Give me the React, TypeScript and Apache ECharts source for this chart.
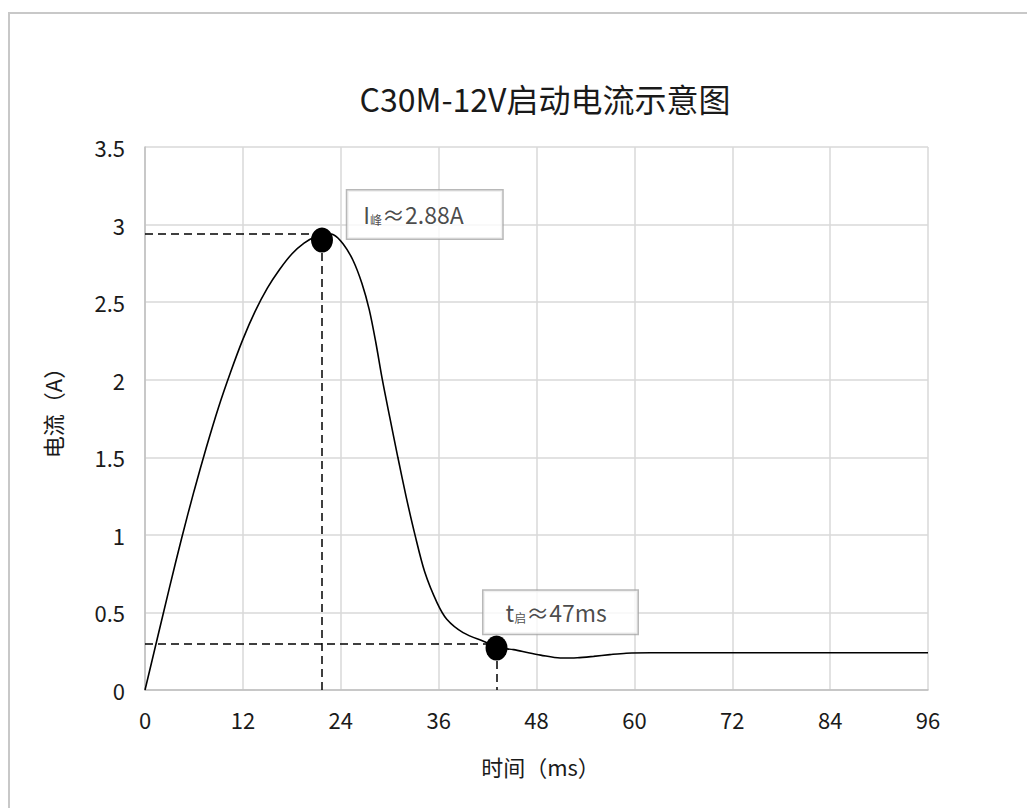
import React, { useEffect, useRef } from "react";
import * as echarts from "echarts";

const titleText = "C30M-12V启动电流示意图";
const xName = "时间（ms）";
const yName = "电流（A）";
const xTicks = [0, 12, 24, 36, 48, 60, 72, 84, 96];
const yTicks = [0, 0.5, 1, 1.5, 2, 2.5, 3, 3.5];

// current curve: time (ms) and current (A)
const timeMs = [
  0, 1.5, 3, 4.5, 6, 7.5, 9, 10.5, 12, 13.5, 15, 16.5, 18, 19.5, 21, 22.2,
  23.1, 24.3, 25.5, 26.6, 27.5, 28.3, 29.1, 30, 31, 32, 33.1, 34.3, 35.8, 37, 39, 41.9,
  43.1, 45.2, 47, 48.5, 50.9, 53, 55, 57, 59, 62, 96,
];
const currentA = [
  0, 0.33, 0.66, 0.98, 1.28, 1.56, 1.82, 2.05, 2.26, 2.44, 2.59, 2.71, 2.81, 2.88, 2.925, 2.94,
  2.935, 2.875, 2.77, 2.62, 2.45, 2.24, 2.0, 1.76, 1.5, 1.25, 1.0, 0.76, 0.563, 0.456, 0.37, 0.305,
  0.275, 0.26, 0.24, 0.225, 0.206, 0.208, 0.217, 0.228, 0.237, 0.24, 0.24,
];

// key points
const peakPoint = [21.7, 2.9];
const peakLevel = 2.94;
const startPoint = [43.1, 0.27];
const startLevel = 0.3;

// annotation anchors (top-left of boxes), in data coords
const peakLabelAt = [24.8, 3.22];
const startLabelAt = [41.5, 0.64];

const FONT = "Noto Sans CJK SC";
const TXT = "#1a1a1a";

export default function App() {
  const ref = useRef<HTMLDivElement>(null);
  useEffect(() => {
    if (!ref.current) return;
    const chart = echarts.init(ref.current, null, { renderer: "svg" });
    const curve = timeMs.map((t, i) => [t, currentA[i]]);
    const dashStyle = { color: "#000", width: 1.5, type: [8, 5] as any };
    const labelBox = (w: number, h: number, padL: number) => ({
      show: true,
      position: [0, 0],
      align: "left",
      verticalAlign: "top",
      backgroundColor: "#fff",
      borderColor: "#a6a6a6",
      borderWidth: 1.5,
      width: w - padL - 4,
      height: h,
      padding: [0, 4, 0, padL],
      color: TXT,
      fontFamily: FONT,
      rich: {
        b: { fontSize: 23, fontFamily: FONT, color: TXT, lineHeight: h },
        s: { fontSize: 12, fontFamily: FONT, color: TXT, lineHeight: h, padding: [10, 0, 0, 0] },
      },
    });
    chart.setOption({
      animation: false,
      backgroundColor: "#fff",
      textStyle: { fontFamily: FONT },
      title: {
        text: titleText,
        left: 540,
        top: 77,
        textAlign: "center",
        textStyle: { fontSize: 32, fontWeight: "normal", color: TXT, fontFamily: FONT },
      },
      graphic: [
        {
          type: "rect",
          shape: { x: 9, y: 13, width: 1200, height: 1000 },
          style: { fill: "none", stroke: "#c8c8c8", lineWidth: 2 },
          silent: true,
        },
      ],
      grid: { left: 145, right: 99, top: 147, bottom: 118 },
      xAxis: {
        type: "value",
        min: xTicks[0],
        max: xTicks[xTicks.length - 1],
        interval: 12,
        name: xName,
        nameLocation: "middle",
        nameGap: 65,
        nameTextStyle: { fontSize: 22, color: TXT, fontFamily: FONT, padding: [0, 0, 0, 8] },
        axisLine: { show: true, lineStyle: { color: "#bfbfbf", width: 1.5 } },
        axisTick: { show: false },
        axisLabel: { fontSize: 22, color: TXT, margin: 18, fontFamily: FONT },
        splitLine: { show: true, lineStyle: { color: "#d9d9d9", width: 1.5 } },
      },
      yAxis: {
        type: "value",
        min: yTicks[0],
        max: yTicks[yTicks.length - 1],
        interval: 0.5,
        name: yName,
        nameLocation: "middle",
        nameGap: 82,
        nameRotate: 90,
        nameTextStyle: { fontSize: 22, color: TXT, fontFamily: FONT, padding: [0, 0, 0, 22] },
        axisLine: { show: true, lineStyle: { color: "#bfbfbf", width: 1.5 } },
        axisTick: { show: false },
        axisLabel: { fontSize: 22, color: TXT, margin: 20, fontFamily: FONT },
        splitLine: { show: true, lineStyle: { color: "#d9d9d9", width: 1.5 } },
      },
      series: [
        {
          type: "line",
          data: curve,
          smooth: 0.3,
          showSymbol: false,
          lineStyle: { color: "#000", width: 1.6 },
          z: 3,
          markLine: {
            silent: true,
            symbol: "none",
            label: { show: false },
            lineStyle: dashStyle,
            data: [
              [{ coord: [0, peakLevel] }, { coord: [peakPoint[0], peakLevel] }],
              [{ coord: [peakPoint[0], peakPoint[1]] }, { coord: [peakPoint[0], 0] }],
              [{ coord: [0, startLevel] }, { coord: [startPoint[0], startLevel] }],
              [{ coord: [startPoint[0], startPoint[1]] }, { coord: [startPoint[0], 0] }],
            ],
          },
        },
        {
          type: "scatter",
          data: [peakPoint, startPoint],
          symbol: "circle",
          symbolSize: [22, 25],
          itemStyle: { color: "#000", opacity: 1 },
          z: 5,
        },
        {
          type: "scatter",
          symbolSize: 0,
          z: 6,
          data: [
            { value: peakLabelAt, label: { ...labelBox(155, 48, 16), formatter: "{b|I}{s|峰}{b|≈2.88A}" } },
            { value: startLabelAt, label: { ...labelBox(154, 43, 22), formatter: "{b|t}{s|启}{b|≈47ms}" } },
          ],
        },
      ],
    });
    return () => chart.dispose();
  }, []);
  return (
    <div
      ref={ref}
      style={{ position: "fixed", left: 0, top: 0, width: 1027, height: 808, background: "#fff" }}
    />
  );
}
